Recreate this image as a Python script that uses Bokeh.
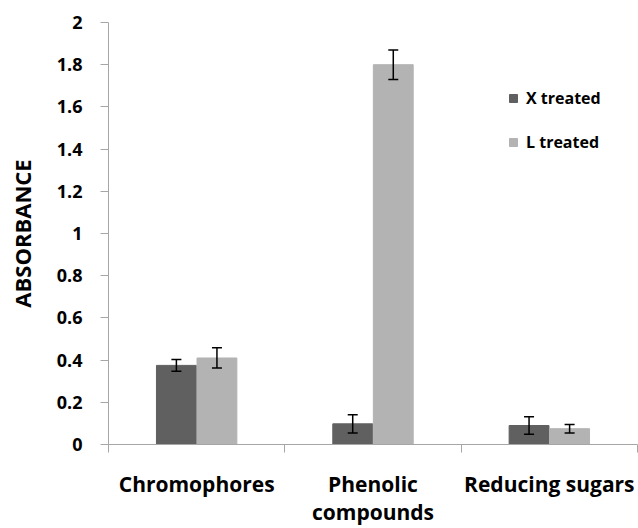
from bokeh.plotting import figure
from bokeh.models import (Range1d, FixedTicker, Whisker, TeeHead, ColumnDataSource)
from bokeh.transform import dodge
from bokeh.embed import file_html
from bokeh.resources import INLINE

categories = ["Chromophores", "Phenolic compounds", "Reducing sugars"]
category_labels = ["Chromophores", "Phenolic\ncompounds", "Reducing sugars"]
series_names = ["X treated", "L treated"]
x_treated = [0.375, 0.098, 0.090]
x_err = [0.028, 0.043, 0.042]
l_treated = [0.410, 1.800, 0.075]
l_err = [0.048, 0.070, 0.020]
y_ticks = [0, 0.2, 0.4, 0.6, 0.8, 1.0, 1.2, 1.4, 1.6, 1.8, 2.0]
y_tick_labels = ["0", "0.2", "0.4", "0.6", "0.8", "1", "1.2", "1.4", "1.6", "1.8", "2"]

FONT = "Open Sans"
DARK = "#606060"
LIGHT = "#b3b3b3"
AXIS = "#a6a6a6"

n = len(categories)
centers = [i + 0.5 for i in range(n)]
bounds = [i for i in range(n + 1)]

src = ColumnDataSource(dict(
    pos=centers,
    x=x_treated,
    x_up=[v + e for v, e in zip(x_treated, x_err)],
    x_lo=[v - e for v, e in zip(x_treated, x_err)],
    l=l_treated,
    l_up=[v + e for v, e in zip(l_treated, l_err)],
    l_lo=[v - e for v, e in zip(l_treated, l_err)],
))

p = figure(width=638, height=528, output_backend="svg", toolbar_location=None,
           x_range=Range1d(0, n), y_range=Range1d(0, 2),
           min_border_left=108, min_border_right=1,
           min_border_top=22, min_border_bottom=82)
p.outline_line_color = None
p.xgrid.visible = False
p.ygrid.visible = False

off = 0.115
w = 0.226
p.vbar(x=dodge("pos", -off), top="x", width=w, source=src,
       fill_color=DARK, line_color=DARK, legend_label=series_names[0])
p.vbar(x=dodge("pos", off), top="l", width=w, source=src,
       fill_color=LIGHT, line_color=LIGHT, legend_label=series_names[1])

for key, o in (("x", -off), ("l", off)):
    wk = Whisker(base=dodge("pos", o), upper=key + "_up", lower=key + "_lo",
                 source=src, line_color="black", line_width=1.5, level="overlay",
                 upper_head=TeeHead(size=10, line_color="black", line_width=1.5),
                 lower_head=TeeHead(size=10, line_color="black", line_width=1.5))
    p.add_layout(wk)

# y axis
ya = p.yaxis[0]
ya.ticker = FixedTicker(ticks=y_ticks)
ya.major_label_overrides = {t: s for t, s in zip(y_ticks, y_tick_labels)}
ya.minor_tick_line_color = None
ya.major_tick_in = 0
ya.major_tick_out = 8
ya.axis_line_color = AXIS
ya.major_tick_line_color = AXIS
ya.major_label_text_font = FONT
ya.major_label_text_font_style = "bold"
ya.major_label_text_font_size = "18px"
ya.major_label_text_color = "black"
ya.major_label_standoff = 18
ya.axis_label = "ABSORBANCE"
ya.axis_label_text_font = FONT
ya.axis_label_text_font_style = "bold"
ya.axis_label_text_font_size = "22px"
ya.axis_label_text_color = "black"
ya.axis_label_standoff = 17

# x axis: labels at category centres, ticks between categories
xa = p.xaxis[0]
xa.ticker = FixedTicker(ticks=centers, minor_ticks=bounds)
xa.major_label_overrides = {c: s for c, s in zip(centers, category_labels)}
xa.major_tick_line_color = None
xa.major_tick_out = 0
xa.major_tick_in = 0
xa.minor_tick_out = 8
xa.minor_tick_in = 0
xa.minor_tick_line_color = AXIS
xa.axis_line_color = AXIS
xa.major_label_text_font = FONT
xa.major_label_text_font_style = "bold"
xa.major_label_text_font_size = "21px"
xa.major_label_text_color = "black"
xa.major_label_text_line_height = 1.0
xa.major_label_standoff = 17

lg = p.legend[0]
lg.location = (400, 291)
lg.background_fill_alpha = 0
lg.border_line_color = None
lg.padding = 0
lg.margin = 0
lg.glyph_width = 10
lg.glyph_height = 10
lg.label_height = 14
lg.spacing = 22
lg.label_standoff = 8
lg.label_text_font = FONT
lg.label_text_font_style = "bold"
lg.label_text_font_size = "16px"
lg.label_text_color = "black"

open("out.html", "w").write(file_html(p, INLINE))
